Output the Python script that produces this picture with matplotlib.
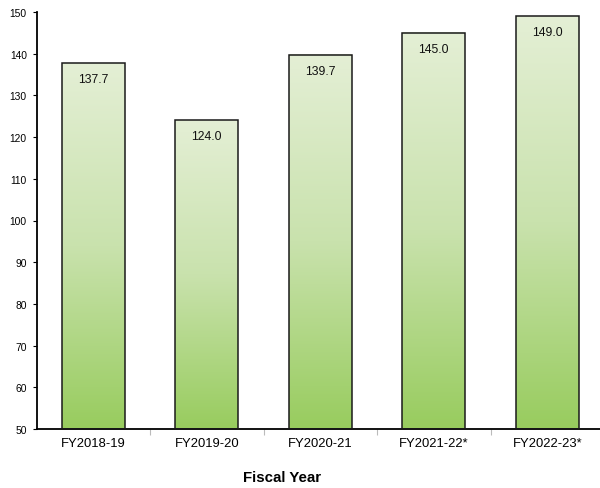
import numpy as np
import matplotlib.pyplot as plt
from matplotlib.colors import LinearSegmentedColormap

plt.rcParams['font.family'] = ['Liberation Sans', 'DejaVu Sans']

years = ['FY2018-19', 'FY2019-20', 'FY2020-21', 'FY2021-22*', 'FY2022-23*']
values = [137.7, 124.0, 139.7, 145.0, 149.0]

fig = plt.figure(figsize=(6, 4.89), dpi=100)
ax = fig.add_axes([36.5 / 600, 1 - 430 / 489, 567.5 / 600, (430 - 13) / 489])

ymin, ymax = 50, 150
x = np.arange(len(years))
width = 0.555

# gradient fill: light on top, green at the bottom
cmap = LinearSegmentedColormap.from_list('g', ['#98cc5e', '#c9e2ad', '#e4efd5'])
grad = np.linspace(0, 1, 256).reshape(-1, 1)

bars = ax.bar(x, np.array(values) - ymin, width, bottom=ymin, facecolor='none',
              edgecolor='#1a1a1a', linewidth=1.1, zorder=3)
for b, v in zip(bars, values):
    x0 = b.get_x()
    ax.imshow(grad, cmap=cmap, aspect='auto', origin='lower',
              extent=[x0, x0 + width, ymin, v], zorder=2)
    ax.text(x0 + width / 2, v - 2.4, f'{v:.1f}', ha='center', va='top',
            fontsize=8.8, color='#111111', zorder=4)

ax.set_xlim(-0.5, len(years) - 0.5)
ax.set_ylim(ymin, ymax)
ax.set_yticks(np.arange(50, 151, 10))
ax.set_xticks(x)
ax.set_xticklabels(years, fontsize=9.4)
ax.set_xticks(np.arange(0.5, len(years) - 0.5, 1), minor=True)
ax.tick_params(axis='x', which='major', length=0, pad=6)
ax.tick_params(axis='x', which='minor', length=4, color='#bbbbbb', width=0.8)
ax.tick_params(axis='y', labelsize=7.4, length=3, width=0.8, pad=4)

for s in ['top', 'right']:
    ax.spines[s].set_visible(False)
ax.spines['left'].set_linewidth(1.3)
ax.spines['bottom'].set_linewidth(1.3)

fig.text(282 / 600, 1 - 478 / 489, 'Fiscal Year', ha='center', va='center',
         fontsize=10.8, fontweight='bold')

fig.savefig('out.png', dpi=100)
